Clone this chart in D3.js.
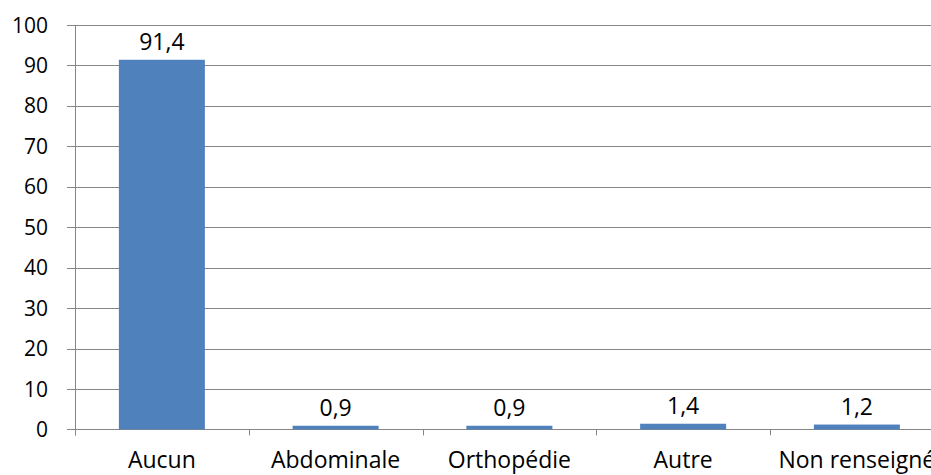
<!DOCTYPE html>
<html><head><meta charset="utf-8">
<script src="https://cdn.jsdelivr.net/npm/d3@7"></script>
<style>
html,body{margin:0;padding:0;background:#fff;}
svg text{font-family:"Open Sans","Lato",sans-serif;fill:#000;}
</style></head>
<body><svg id="c" width="931" height="475"></svg>
<script>
const categories = ["Aucun","Abdominale","Orthopédie","Autre","Non renseigné"];
const values = [91.4, 0.9, 0.9, 1.4, 1.2];
const valueLabels = ["91,4","0,9","0,9","1,4","1,2"];
const yTicks = [0,10,20,30,40,50,60,70,80,90,100];

(function(){
const svg = d3.select("#c");
const pLeft = 75, pTop = 25, pBottom = 429.4, pRight = 943.75;
const x = d3.scaleBand().domain(categories).range([pLeft, pRight]).paddingInner(0).paddingOuter(0);
const y = d3.scaleLinear().domain([0,100]).range([pBottom, pTop]);
const grid = "#868686";

svg.append("g").selectAll("line").data(yTicks).join("line")
  .attr("x1", pLeft - 8).attr("x2", pRight)
  .attr("y1", d => Math.round(y(d)) + 0.5).attr("y2", d => Math.round(y(d)) + 0.5)
  .attr("stroke", grid).attr("stroke-width", 1);

svg.append("line").attr("x1", pLeft + 0.5).attr("x2", pLeft + 0.5)
  .attr("y1", pTop).attr("y2", pBottom + 6).attr("stroke", grid);

const bounds = categories.map(c => x(c)).concat([pRight]);
svg.append("g").selectAll("line").data(bounds).join("line")
  .attr("x1", d => Math.round(d) + 0.5).attr("x2", d => Math.round(d) + 0.5)
  .attr("y1", pBottom).attr("y2", pBottom + 6).attr("stroke", grid);

svg.append("g").selectAll("text").data(yTicks).join("text")
  .attr("x", 48).attr("y", d => y(d)).attr("dy", "0.36em")
  .attr("text-anchor", "end").attr("font-size", 21).text(d => d);

const bw = 86;
svg.append("g").selectAll("rect").data(values).join("rect")
  .attr("x", (d,i) => x(categories[i]) + (x.bandwidth() - bw)/2)
  .attr("width", bw)
  .attr("y", d => y(d)).attr("height", d => pBottom - y(d))
  .attr("fill", "#4F81BD");

svg.append("g").selectAll("text").data(values).join("text")
  .attr("x", (d,i) => x(categories[i]) + x.bandwidth()/2)
  .attr("y", d => y(d) - 10)
  .attr("text-anchor", "middle").attr("font-size", 23)
  .text((d,i) => valueLabels[i]);

svg.append("g").selectAll("text").data(categories).join("text")
  .attr("x", d => x(d) + x.bandwidth()/2).attr("y", 468)
  .attr("text-anchor", "middle").attr("font-size", 23).text(d => d);
})();
</script></body></html>
